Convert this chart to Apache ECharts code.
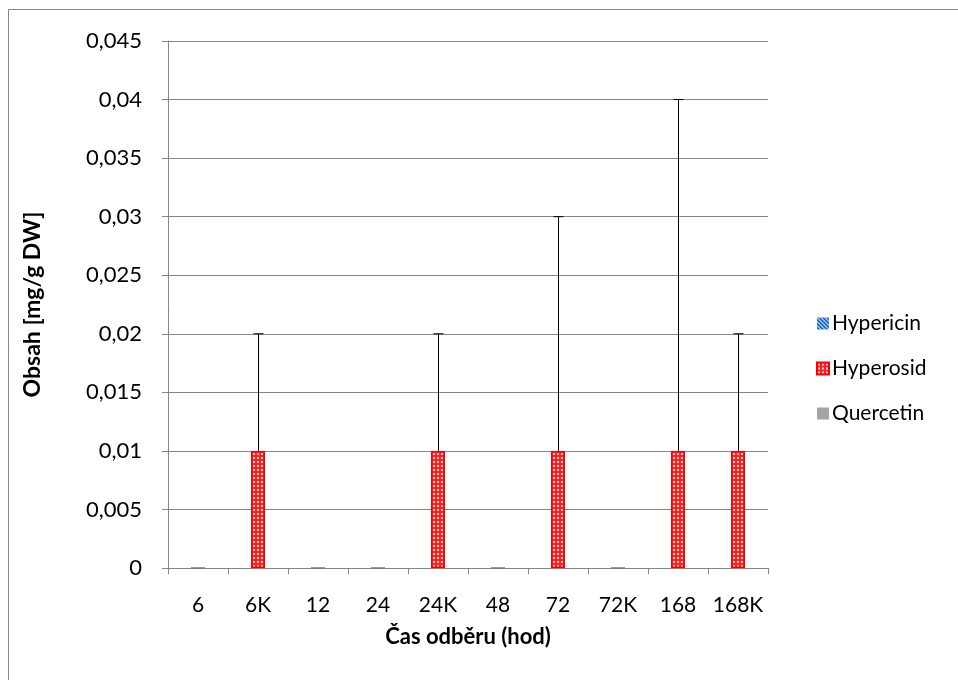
<!DOCTYPE html>
<html>
<head>
    <meta charset="utf-8">
    <title>chart</title>
    <script src="https://cdn.jsdelivr.net/npm/echarts@6/dist/echarts.min.js"></script>
    <style>
        html, body { margin: 0; padding: 0; background: #fff; }
        #main { width: 958px; height: 680px; }
    </style>
</head>
<body>
    <div id="main"></div>
    <script>
    var categories = ['6', '6K', '12', '24', '24K', '48', '72', '72K', '168', '168K'];
    var hypericin = [0, 0, 0, 0, 0, 0, 0, 0, 0, 0];
    var hyperosid = [0, 0.01, 0, 0, 0.01, 0, 0.01, 0, 0.01, 0.01];
    var quercetin = [0, 0, 0, 0, 0, 0, 0, 0, 0, 0];
    // upper error of Hyperosid
    var hyperosidErr = [0, 0.01, 0, 0, 0.01, 0, 0.02, 0, 0.03, 0.01];

    var FONT = 'Lato, "Open Sans", sans-serif';

    function makeDots() {
        var c = document.createElement('canvas');
        c.width = 4; c.height = 4;
        var ctx = c.getContext('2d');
        ctx.fillStyle = '#ff2020';
        ctx.fillRect(0, 0, 4, 4);
        ctx.fillStyle = '#ffd0d0';
        ctx.fillRect(1, 1, 2, 2);
        return c;
    }
    function makeStripes() {
        var c = document.createElement('canvas');
        c.width = 4; c.height = 4;
        var ctx = c.getContext('2d');
        ctx.fillStyle = '#1f6fc4';
        ctx.fillRect(0, 0, 4, 4);
        ctx.fillStyle = '#ffffff';
        for (var i = 0; i < 4; i++) {
            ctx.fillRect(i, i, 1, 1);
        }
        return c;
    }

    var errData = [];
    hyperosid.forEach(function (v, i) {
        if (hyperosidErr[i] > 0) errData.push([i, v, v + hyperosidErr[i]]);
    });
    // zero-height bars show only a thin dark line
    var hyperosidItems = hyperosid.map(function (v) {
        return v === 0 ? { value: v, itemStyle: { borderColor: '#777', borderWidth: 1 } } : v;
    });

    var chart = echarts.init(document.getElementById('main'));
    var option = {
        animation: false,
        backgroundColor: '#fff',
        textStyle: { fontFamily: FONT },
        graphic: [{
            type: 'rect',
            shape: { x: 8.5, y: 9.5, width: 1000, height: 1000 },
            style: { fill: 'none', stroke: '#868686', lineWidth: 1 },
            silent: true
        }],
        grid: { left: 168, right: 190, top: 41, bottom: 112 },
        legend: {
            orient: 'vertical',
            left: 811,
            top: 308,
            itemGap: 24,
            itemWidth: 12,
            itemHeight: 12,
            icon: 'rect',
            textStyle: { fontSize: 21, color: '#000', fontFamily: FONT, padding: [0, 0, 0, -2] },
            data: ['Hypericin', 'Hyperosid', 'Quercetin']
        },
        xAxis: {
            type: 'category',
            data: categories,
            name: 'Čas odběru (hod)',
            nameLocation: 'middle',
            nameGap: 58,
            nameTextStyle: { fontSize: 22, fontWeight: 'bold', color: '#000', fontFamily: FONT },
            axisLine: { lineStyle: { color: '#868686' } },
            axisTick: { show: true, length: 6, alignWithLabel: false, lineStyle: { color: '#868686' } },
            axisLabel: { interval: 0, fontSize: 21, color: '#000', margin: 27, fontFamily: FONT }
        },
        yAxis: {
            type: 'value',
            min: 0,
            max: 0.045,
            interval: 0.005,
            name: 'Obsah [mg/g DW]',
            nameLocation: 'middle',
            nameGap: 124,
            nameRotate: 90,
            nameTextStyle: { fontSize: 23, fontWeight: 'bold', color: '#000', fontFamily: FONT },
            axisLine: { show: true, lineStyle: { color: '#868686' } },
            axisTick: { show: true, length: 6, lineStyle: { color: '#868686' } },
            splitLine: { lineStyle: { color: '#868686' } },
            axisLabel: {
                fontSize: 22, color: '#000', margin: 26, fontFamily: FONT,
                formatter: function (v) { return String(+v.toFixed(3)).replace('.', ','); }
            }
        },
        series: [{
            name: 'Hypericin',
            type: 'bar',
            barWidth: 14,
            barGap: '0%',
            data: hypericin,
            itemStyle: { color: { image: makeStripes(), repeat: 'repeat' } }
        }, {
            name: 'Hyperosid',
            type: 'bar',
            barWidth: 14,
            barGap: '0%',
            data: hyperosidItems,
            itemStyle: { color: { image: makeDots(), repeat: 'repeat' }, borderColor: '#ff0000', borderWidth: 1.5 }
        }, {
            name: 'Quercetin',
            type: 'bar',
            barWidth: 14,
            barGap: '0%',
            data: quercetin,
            itemStyle: { color: '#a5a5a5' }
        }, {
            type: 'custom',
            name: 'err',
            z: 10,
            data: errData,
            renderItem: function (params, api) {
                var lo = api.coord([api.value(0), api.value(1)]);
                var hi = api.coord([api.value(0), api.value(2)]);
                var x = Math.round(lo[0]) + 0.5;
                var hw = 5;
                return {
                    type: 'group',
                    children: [{
                        type: 'line',
                        shape: { x1: x, y1: lo[1], x2: x, y2: hi[1] },
                        style: { stroke: '#000', lineWidth: 1 }
                    }, {
                        type: 'line',
                        shape: { x1: x - hw, y1: hi[1], x2: x + hw, y2: hi[1] },
                        style: { stroke: '#000', lineWidth: 1 }
                    }]
                };
            }
        }]
    };
    chart.setOption(option);
    </script>
</body>
</html>
